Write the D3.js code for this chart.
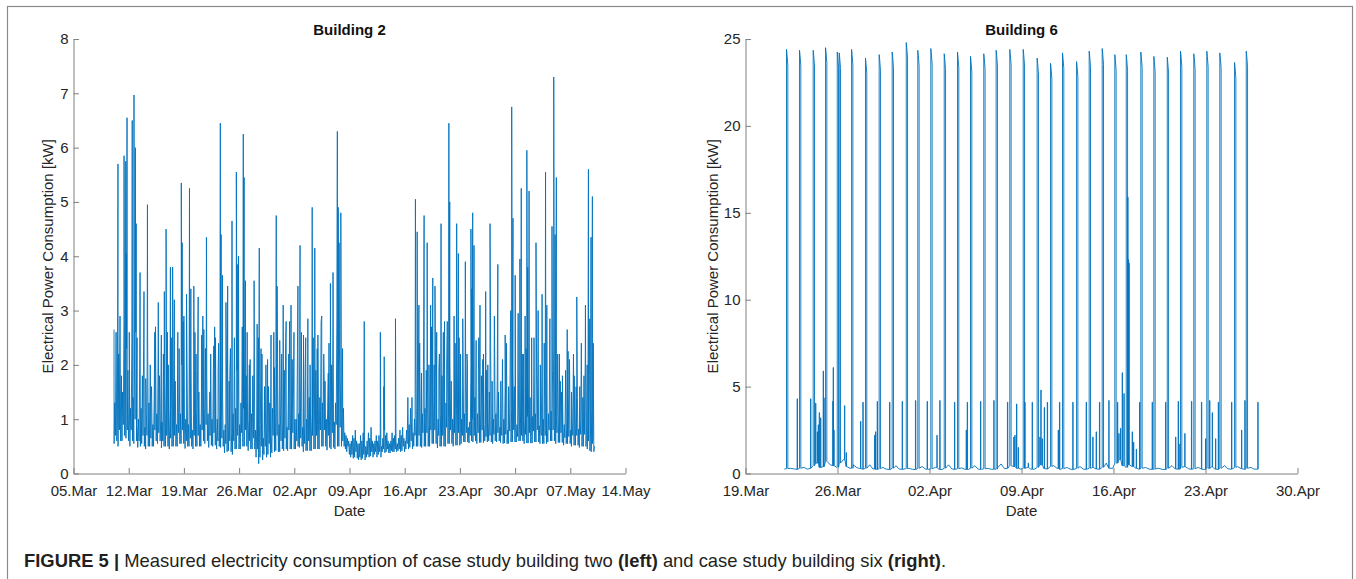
<!DOCTYPE html>
<html>
<head>
<meta charset="utf-8">
<script src="https://cdn.jsdelivr.net/npm/d3@7"></script>
<style>
  body { margin: 0; background: #fff; }
  svg  { font-family: "Liberation Sans", Arial, Helvetica, sans-serif; }
</style>
</head>
<body>
<svg id="fig" width="1356" height="579"></svg>
<script>
// ---------------------------------------------------------------
// Data
// ---------------------------------------------------------------

// Building 2 - x ticks, y ticks
var b2Ticks  = ["2018-03-05","2018-03-12","2018-03-19","2018-03-26","2018-04-02","2018-04-09",
                "2018-04-16","2018-04-23","2018-04-30","2018-05-07","2018-05-14"];
var b2YTicks = [0, 1, 2, 3, 4, 5, 6, 7, 8];

// Building 2 - regular readings every 2 h (one row = one day, 10.Mar .. 10.May), kW
var b2BaseFrom = 5.15;      // days after 05.Mar
var b2BaseStep = 1 / 12;
var b2Base = [
  0.55,1.3,0.7,2.6,0.6,1.0,0.5,2.2,0.8,2.9,0.6,1.2,
  0.6,1.5,0.9,2.8,0.7,1.2,0.65,2.3,0.8,1.9,0.6,1.1,
  0.5,1.2,0.8,2.4,0.6,1.4,0.55,2.0,1.0,2.6,0.6,0.9,
  0.48,1.0,0.6,2.1,0.5,1.2,0.55,1.8,0.7,2.5,0.5,0.85,
  0.45,1.1,0.7,2.5,0.5,1.3,0.5,2.0,0.65,1.6,0.5,0.9,
  0.5,1.4,0.8,2.7,0.6,1.1,0.55,2.3,0.75,1.8,0.6,1.0,
  0.47,0.95,0.6,2.2,0.5,1.2,0.5,1.7,0.7,2.6,0.5,0.8,
  0.45,1.2,0.65,2.5,0.5,1.0,0.5,2.1,0.7,1.7,0.5,0.9,
  0.5,1.3,0.75,2.3,0.55,1.1,0.55,2.0,0.8,2.8,0.55,0.95,
  0.46,1.0,0.6,2.0,0.5,0.9,0.5,1.7,0.65,2.2,0.5,0.8,
  0.45,1.1,0.7,2.6,0.5,1.2,0.5,1.9,0.7,1.5,0.5,0.9,
  0.5,1.5,0.8,2.9,0.6,1.3,0.55,2.3,0.9,1.8,0.6,1.1,
  0.48,1.2,0.7,2.2,0.52,1.0,0.5,1.9,0.75,2.7,0.52,0.9,
  0.45,1.0,0.6,2.4,0.5,1.1,0.48,1.8,0.65,1.5,0.5,0.8,
  0.38,0.9,0.55,2.0,0.4,1.0,0.42,1.7,0.6,2.3,0.4,0.75,
  0.35,1.1,0.6,2.5,0.45,1.2,0.45,1.9,0.7,1.6,0.45,0.9,
  0.45,1.3,0.75,2.7,0.5,1.2,0.5,2.2,0.8,1.8,0.5,1.0,
  0.42,1.0,0.6,2.1,0.45,1.1,0.45,1.8,0.65,2.4,0.45,0.8,
  0.3,0.8,0.45,1.9,0.18,0.9,0.3,1.5,0.5,2.2,0.25,0.65,
  0.35,0.9,0.5,2.0,0.3,1.0,0.35,1.6,0.55,1.3,0.3,0.7,
  0.38,1.2,0.7,2.6,0.4,1.1,0.42,2.0,0.7,1.6,0.4,0.9,
  0.4,1.1,0.6,2.2,0.45,1.0,0.42,1.9,0.65,2.5,0.45,0.85,
  0.42,1.3,0.8,2.8,0.45,1.2,0.45,2.1,0.75,1.7,0.45,1.0,
  0.45,1.0,0.6,2.3,0.5,1.1,0.48,1.8,0.65,2.6,0.5,0.85,
  0.4,0.95,0.55,2.0,0.42,1.0,0.42,1.7,0.6,1.4,0.42,0.8,
  0.42,1.1,0.7,2.5,0.45,1.2,0.45,1.9,0.7,2.3,0.45,0.9,
  0.45,1.4,0.8,2.8,0.5,1.3,0.5,2.2,0.8,1.7,0.5,1.0,
  0.43,1.2,0.7,2.4,0.48,1.1,0.45,2.0,0.75,2.7,0.48,0.95,
  0.45,1.3,0.9,2.9,0.5,1.4,0.5,2.3,0.85,1.8,0.5,1.1,
  0.6,1.2,0.5,0.75,0.45,0.7,0.4,0.65,0.5,0.6,0.35,0.55,
  0.3,0.6,0.35,0.7,0.28,0.65,0.3,0.8,0.4,0.6,0.28,0.55,
  0.25,0.55,0.3,0.7,0.25,0.6,0.28,0.75,0.35,0.55,0.25,0.5,
  0.3,0.6,0.35,0.75,0.3,0.65,0.32,0.85,0.4,0.6,0.3,0.55,
  0.35,0.6,0.4,0.7,0.3,0.6,0.35,0.7,0.4,0.55,0.3,0.5,
  0.4,0.65,0.45,0.8,0.38,0.7,0.4,0.75,0.45,0.6,0.38,0.55,
  0.38,0.6,0.42,0.75,0.4,0.65,0.4,0.7,0.45,0.6,0.4,0.55,
  0.42,0.65,0.45,0.8,0.4,0.7,0.42,0.85,0.5,0.65,0.4,0.6,
  0.45,0.8,0.55,1.4,0.45,0.9,0.48,1.2,0.6,1.0,0.45,0.75,
  0.5,1.0,0.7,2.1,0.5,1.2,0.5,1.7,0.7,2.4,0.5,0.85,
  0.48,1.1,0.75,2.5,0.5,1.2,0.5,1.9,0.75,1.5,0.5,0.9,
  0.5,1.2,0.8,2.7,0.55,1.3,0.55,2.0,0.8,2.3,0.55,0.95,
  0.47,1.0,0.7,2.2,0.5,1.1,0.5,1.8,0.7,2.6,0.5,0.85,
  0.5,1.3,0.85,2.8,0.55,1.3,0.55,2.1,0.8,1.7,0.55,1.0,
  0.5,1.1,0.75,2.4,0.52,1.2,0.52,1.9,0.75,2.5,0.52,0.9,
  0.55,1.0,0.7,2.3,0.58,1.1,0.58,1.7,0.75,2.2,0.58,0.85,
  0.56,0.95,0.7,2.0,0.6,1.0,0.58,1.6,0.7,1.4,0.6,0.8,
  0.55,1.1,0.75,2.5,0.57,1.2,0.57,1.8,0.8,2.1,0.57,0.9,
  0.6,0.9,0.68,1.9,0.58,0.95,0.6,1.5,0.7,2.3,0.58,0.8,
  0.55,1.0,0.72,2.4,0.6,1.1,0.58,1.7,0.75,1.5,0.6,0.85,
  0.57,0.95,0.7,2.1,0.55,1.0,0.56,1.6,0.72,2.4,0.55,0.8,
  0.55,1.1,0.78,2.6,0.58,1.2,0.58,1.9,0.8,1.6,0.58,0.9,
  0.58,0.9,0.68,1.9,0.6,0.95,0.6,1.5,0.7,2.2,0.6,0.8,
  0.55,1.0,0.72,2.3,0.56,1.05,0.56,1.7,0.75,1.4,0.56,0.85,
  0.56,1.05,0.78,2.5,0.58,1.1,0.58,1.8,0.8,2.3,0.58,0.88,
  0.55,0.95,0.7,2.0,0.55,1.0,0.55,1.6,0.7,1.4,0.55,0.82,
  0.58,1.1,0.8,2.6,0.6,1.15,0.6,1.9,0.8,2.4,0.6,0.9,
  0.55,1.0,0.75,2.2,0.57,1.1,0.57,1.7,0.75,1.5,0.57,0.86,
  0.52,0.9,0.66,1.9,0.55,0.95,0.55,1.5,0.68,2.1,0.55,0.8,
  0.5,0.95,0.7,2.2,0.52,1.0,0.52,1.6,0.7,1.4,0.52,0.82,
  0.48,1.0,0.72,2.4,0.5,1.05,0.5,1.8,0.72,2.2,0.5,0.85,
  0.45,0.9,0.6,1.8,0.42,0.8,0.4,1.2,0.55,0.7,0.4,0.5
];

// Building 2 - short peaks [day after 05.Mar, kW]
var b2Spikes = [
  [5.14,2.65],[5.64,5.7],[5.86,2.2],[6.08,1.8],[6.41,5.85],[6.63,5.75],[6.7,4.05],[6.79,6.55],
  [7.07,2.6],[7.45,6.5],[7.67,6.97],[7.84,6.0],[7.95,4.6],[8.06,2.5],[8.44,3.7],[8.94,3.35],
  [9.16,1.75],[9.38,4.95],[9.82,1.3],[10.31,2.6],[10.75,3.15],[11.14,2.55],[11.52,3.35],[11.74,4.5],
  [12.02,2.0],[12.29,3.8],[12.57,3.8],[12.79,3.2],[13.23,2.6],[13.67,5.35],[13.78,4.25],[14.0,2.9],
  [14.33,3.3],[14.71,5.25],[14.88,3.4],[15.26,3.45],[15.54,2.2],[15.81,3.25],[16.25,2.55],[16.53,2.65],
  [16.86,4.35],[17.3,1.5],[17.79,2.35],[18.01,2.5],[18.34,1.9],[18.62,6.45],[18.72,4.4],[18.89,3.65],
  [19.33,3.15],[19.55,3.45],[19.82,1.8],[20.1,4.65],[20.37,1.8],[20.65,5.55],[20.76,3.85],[20.92,4.0],
  [21.53,6.25],[21.64,5.45],[21.8,3.55],[22.02,2.6],[22.3,2.0],[22.9,3.55],[23.29,2.75],[23.45,2.5],
  [23.56,4.15],[23.78,2.3],[24.22,1.6],[24.61,2.1],[25.05,2.55],[25.49,1.95],[25.71,4.75],[25.82,3.45],
  [26.15,2.45],[26.59,3.1],[26.97,2.8],[27.3,2.2],[27.58,3.1],[27.96,2.6],[28.46,3.45],[28.73,4.2],
  [29.17,2.55],[29.45,2.5],[29.72,2.85],[30.0,2.0],[30.27,4.9],[30.6,4.15],[30.99,2.55],[31.48,2.9],
  [31.81,1.6],[32.31,1.85],[32.58,3.5],[32.91,3.7],[33.46,6.3],[33.57,4.9],[33.68,4.25],[33.9,4.8],
  [34.12,2.3],[36.87,2.8],[38.91,2.6],[39.35,1.6],[39.4,2.15],[40.83,2.85],[42.92,1.4],[43.36,5.05],
  [43.58,4.45],[43.8,3.1],[44.13,1.85],[44.46,4.75],[44.85,4.25],[45.07,2.0],[45.29,3.1],[45.56,3.6],
  [45.84,3.45],[46.06,2.6],[46.33,1.9],[46.61,4.6],[47.05,2.8],[47.32,2.0],[47.6,6.45],[47.71,5.0],
  [48.26,2.9],[48.59,4.6],[48.81,4.05],[49.08,2.2],[49.36,2.85],[49.69,3.9],[49.96,2.0],[50.4,4.5],
  [50.51,3.4],[50.62,4.8],[50.79,4.2],[51.06,2.45],[51.34,1.8],[51.55,3.1],[51.99,2.2],[52.27,3.35],
  [52.54,2.0],[52.82,4.6],[53.09,1.7],[53.37,2.9],[53.81,3.85],[54.19,1.7],[54.74,2.55],[55.18,1.6],
  [55.46,3.0],[55.57,6.75],[55.73,4.7],[56.01,3.65],[56.39,2.95],[56.61,3.95],[56.78,5.25],[57.05,2.2],
  [57.27,2.9],[57.49,5.95],[57.6,3.8],[57.77,5.2],[58.1,2.5],[58.37,1.8],[58.65,4.25],[58.92,3.0],
  [59.2,2.0],[59.42,3.3],[59.69,2.4],[59.86,5.55],[60.02,3.1],[60.41,2.85],[60.68,4.55],[60.9,7.3],
  [61.07,4.4],[61.23,5.45],[61.62,2.2],[62.0,1.8],[62.39,1.6],[62.61,2.65],[62.72,2.25],[63.16,1.5],
  [63.49,1.8],[63.82,3.25],[64.2,1.6],[64.59,1.4],[64.92,3.1],[65.14,2.0],[65.3,5.6],[65.47,2.85],
  [65.63,4.35],[65.8,5.1],[65.91,2.4]
];

// Building 6 - x ticks, y ticks
var b6Ticks  = ["2018-03-19","2018-03-26","2018-04-02","2018-04-09","2018-04-16","2018-04-23","2018-04-30"];
var b6YTicks = [0, 5, 10, 15, 20, 25];

// Building 6 - idle readings every 6 h, first one 2.95 days after 19.Mar (kW)
var b6IdleFrom = 2.95;
var b6IdleStep = 0.25;
var b6Idle = [
  0.25,0.28,0.3,0.26,  0.24,0.3,0.35,0.25,  0.3,0.45,0.6,0.35,  0.4,0.7,0.5,0.45,
  0.35,0.6,0.8,0.4,    0.3,0.5,0.35,0.28,   0.25,0.3,0.5,0.26,  0.24,0.28,0.35,0.25,
  0.23,0.3,0.45,0.25,  0.24,0.28,0.3,0.24,  0.23,0.3,0.4,0.25,  0.24,0.27,0.35,0.24,
  0.23,0.3,0.5,0.26,   0.24,0.28,0.32,0.24, 0.23,0.3,0.45,0.25, 0.24,0.27,0.3,0.24,
  0.25,0.35,0.55,0.28, 0.3,0.45,0.4,0.3,    0.25,0.3,0.35,0.25, 0.24,0.35,0.5,0.28,
  0.26,0.4,0.45,0.3,   0.24,0.28,0.35,0.25, 0.23,0.3,0.4,0.25,  0.24,0.3,0.35,0.26,
  0.25,0.35,0.6,0.3,   0.3,0.6,0.8,0.45,    0.35,0.5,0.4,0.3,   0.25,0.3,0.35,0.25,
  0.24,0.28,0.3,0.24,  0.23,0.3,0.45,0.26,  0.25,0.35,0.4,0.28, 0.24,0.28,0.35,0.25,
  0.23,0.3,0.38,0.25,  0.24,0.3,0.45,0.27,  0.25,0.35,0.4,0.28, 0.24,0.3,0.35,0.25,
  0.25
];

// Building 6 - daily main load blocks [day after 19.Mar, kW]
var b6Peaks = [
  [3.12,24.4],[4.11,24.35],[5.15,24.35],[6.09,24.5],[6.98,24.25],[7.13,24.2],[8.07,24.4],[9.13,23.9],
  [10.17,24.1],[11.16,24.25],[12.23,24.8],[13.11,24.35],[14.10,24.45],[15.12,24.15],[16.13,24.25],
  [17.12,24.0],[18.13,24.15],[19.07,24.35],[20.11,24.4],[21.13,24.4],[22.19,23.9],[23.21,23.6],
  [24.12,24.2],[25.19,23.7],[26.15,24.3],[27.14,24.45],[28.10,24.1],[28.97,24.1],[30.08,24.25],
  [31.07,24.0],[32.09,23.95],[33.10,24.3],[34.11,24.15],[35.10,24.3],[36.09,24.2],[37.21,23.65],
  [38.10,24.3]
];

// Building 6 - smaller loads [day after 19.Mar, kW]
var b6Spikes = [
  [3.93,4.3],[4.95,4.3],[5.33,4.05],[5.46,2.4],[5.53,2.8],[5.61,3.5],[5.71,3.2],[5.91,5.9],[5.96,4.35],
  [6.64,4.15],[6.67,6.1],[6.72,2.5],[7.53,3.9],[7.66,1.2],[8.75,3.0],[8.93,4.1],[9.82,2.2],[9.89,2.4],
  [10.02,4.15],[10.96,4.1],[11.92,4.15],[12.93,4.2],[13.82,4.15],[14.56,2.2],[14.78,4.2],[15.9,4.1],
  [16.79,2.5],[16.87,4.1],[17.88,4.15],[18.89,4.2],[19.93,4.1],[20.41,2.1],[20.49,2.2],[20.62,4.0],
  [20.75,1.5],[21.25,4.1],[21.51,0.6],[21.81,4.1],[22.39,2.1],[22.47,4.8],[22.57,2.0],[22.73,3.8],
  [22.96,4.1],[23.79,2.5],[23.89,4.1],[24.9,4.1],[25.92,4.1],[26.42,2.1],[26.68,2.4],[26.93,4.1],
  [27.64,4.2],[28.3,4.1],[28.4,2.3],[28.53,2.6],[28.66,5.8],[28.79,4.6],[29.08,15.9],[29.13,12.3],
  [29.17,12.1],[29.42,2.4],[29.52,1.8],[29.73,1.4],[29.98,4.1],[30.94,4.1],[31.96,4.1],[32.72,2.1],
  [32.92,4.15],[33.04,1.7],[33.42,2.3],[33.93,4.15],[34.69,4.1],[35.0,2.0],[35.31,4.2],[35.51,3.5],
  [35.76,2.0],[35.97,4.1],[36.98,4.1],[37.74,2.5],[37.99,4.2],[38.98,4.1]
];

// ---------------------------------------------------------------
// Build the line series
// ---------------------------------------------------------------
var b2Points = b2Base.map(function(v, i){ return [b2BaseFrom + i * b2BaseStep, v]; })
    .concat(b2Spikes)
    .sort(function(a, b){ return a[0] - b[0]; });

// building 6: load blocks sit on top of the idle readings
function idleAt(t) {
    var i = Math.max(0, Math.min(b6Idle.length - 1, Math.round((t - b6IdleFrom) / b6IdleStep)));
    return b6Idle[i];
}
var b6Items = b6Idle.map(function(v, i){
    var t = b6IdleFrom + i * b6IdleStep;
    return { t: t, pts: [[t, v]] };
});
b6Peaks.forEach(function(p){
    var t = p[0], v = p[1], w = 0.1, lvl = idleAt(t);
    b6Items.push({ t: t, end: t + w,
        pts: [[t, lvl], [t, v], [t + w * 0.4, v - 0.3], [t + w, v - 0.9], [t + w, lvl]] });
});
b6Spikes.forEach(function(p){
    var t = p[0], v = p[1], w = 0.025, lvl = idleAt(t);
    b6Items.push({ t: t, end: t + w, pts: [[t, lvl], [t, v], [t + w, v], [t + w, lvl]] });
});
b6Items.sort(function(a, b){ return a.t - b.t; });
var b6Busy = b6Items.filter(function(d){ return d.end; });
var b6Points = [];
b6Items.forEach(function(d){
    if (!d.end && b6Busy.some(function(b){ return d.t >= b.t && d.t <= b.end; })) return;
    b6Points = b6Points.concat(d.pts);
});

// ---------------------------------------------------------------
// Drawing
// ---------------------------------------------------------------
var parse = d3.timeParse("%Y-%m-%d");
var fmt   = d3.timeFormat("%d.%b");
var TOP = 39, BOTTOM = 473.5, W = 552;
var LINE = "#0072BD", AXIS = "#808080", TEXT = "#262626";

var svg = d3.select("#fig");

// outer frame of the figure
svg.append("rect")
    .attr("x", 7.5).attr("y", 6.5).attr("width", 1345).attr("height", 620)
    .attr("fill", "none").attr("stroke", "#8a8a8a").attr("stroke-width", 1.2);

function drawPanel(cfg) {
    var ticks = cfg.ticks.map(parse);
    var t0 = ticks[0];
    var toDate = function(d){ return new Date(t0.getTime() + d * 864e5); };

    var x = d3.scaleTime().domain([t0, ticks[ticks.length - 1]]).range([cfg.left, cfg.left + W]);
    var y = d3.scaleLinear().domain([0, cfg.yMax]).range([BOTTOM, TOP]);

    var g = svg.append("g");

    // measurements
    g.append("path")
        .datum(cfg.points)
        .attr("fill", "none")
        .attr("stroke", LINE)
        .attr("stroke-width", 0.9)
        .attr("stroke-linejoin", "round")
        .attr("d", d3.line()
            .x(function(d){ return x(toDate(d[0])); })
            .y(function(d){ return y(d[1]); }));

    // x axis, ticks pointing inward
    var xa = g.append("g")
        .attr("transform", "translate(0," + BOTTOM + ")")
        .call(d3.axisBottom(x).tickValues(ticks).tickFormat(fmt)
            .tickSizeInner(-5.5).tickSizeOuter(0).tickPadding(11.5));

    // y axis
    var ya = g.append("g")
        .attr("transform", "translate(" + cfg.left + ",0)")
        .call(d3.axisLeft(y).tickValues(cfg.yTicks)
            .tickSizeInner(-5.5).tickSizeOuter(0).tickPadding(5));

    [xa, ya].forEach(function(a){
        a.attr("font-size", 15).attr("font-family", null);
        a.selectAll("path, line").attr("stroke", AXIS);
        a.selectAll("text").attr("fill", TEXT);
    });

    // title
    g.append("text")
        .attr("x", cfg.left + W / 2).attr("y", 34.5)
        .attr("text-anchor", "middle")
        .attr("font-size", 15).attr("font-weight", "bold")
        .attr("fill", "#111")
        .text(cfg.title);

    // axis labels
    g.append("text")
        .attr("x", cfg.left + W / 2).attr("y", 515.5)
        .attr("text-anchor", "middle")
        .attr("font-size", 15).attr("fill", TEXT)
        .text("Date");

    g.append("text")
        .attr("transform", "translate(" + (cfg.left - cfg.yLabelGap) + "," + ((TOP + BOTTOM) / 2) + ") rotate(-90)")
        .attr("text-anchor", "middle")
        .attr("font-size", 15).attr("fill", TEXT)
        .text("Electrical Power Consumption [kW]");
}

drawPanel({ left: 73.5, title: "Building 2", ticks: b2Ticks, yTicks: b2YTicks, yMax: 8,
            points: b2Points, yLabelGap: 21 });
drawPanel({ left: 745.5, title: "Building 6", ticks: b6Ticks, yTicks: b6YTicks, yMax: 25,
            points: b6Points, yLabelGap: 28 });

// caption
var cap = svg.append("text")
    .attr("x", 24).attr("y", 567)
    .attr("font-size", 18.4).attr("fill", "#231f20");
cap.append("tspan").attr("font-weight", "bold").text("FIGURE 5 |");
cap.append("tspan").text(" Measured electricity consumption of case study building two ");
cap.append("tspan").attr("font-weight", "bold").text("(left)");
cap.append("tspan").text(" and case study building six ");
cap.append("tspan").attr("font-weight", "bold").text("(right)");
cap.append("tspan").text(".");
</script>
</body>
</html>
